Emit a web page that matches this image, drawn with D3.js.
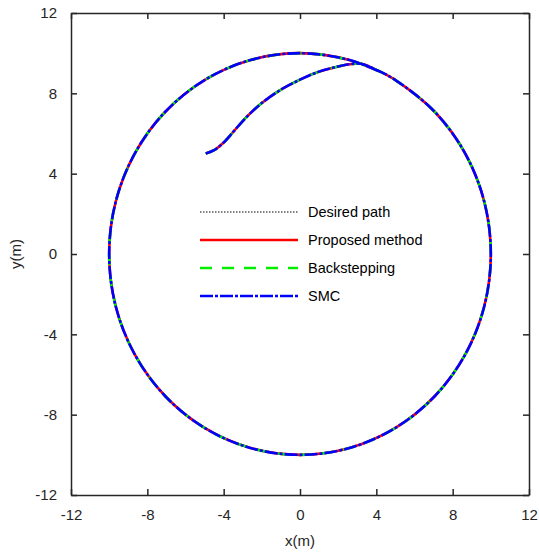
<!DOCTYPE html>
<html>
<head>
<meta charset="utf-8">
<script src="https://cdn.jsdelivr.net/npm/d3@7"></script>
<style>
  body { margin: 0; background: #fff; }
  svg { font-family: Arial, "Liberation Sans", sans-serif; }
</style>
</head>
<body>
<svg id="chart"></svg>
<script>
const desiredX = [10, 9.66, 8.66, 7.07, 5, 2.59, 0, -2.59, -5, -7.07, -8.66, -9.66, -10, -9.66, -8.66, -7.07, -5, -2.59, 0, 2.59, 5, 7.07, 8.66, 9.66];
const desiredY = [0, 2.59, 5, 7.07, 8.66, 9.66, 10, 9.66, 8.66, 7.07, 5, 2.59, 0, -2.59, -5, -7.07, -8.66, -9.66, -10, -9.66, -8.66, -7.07, -5, -2.59];

// Tracked trajectory: approach from (-5,5), then clockwise around the circle
const trackX = [-4.94, -4.5, -4.0, -3.5, -3.0, -2.5, -2.0, -1.0, 0, 1.0, 2.0, 2.6, 3.2, 4.0,
                5, 7.07, 8.66, 9.66, 10, 9.66, 8.66, 7.07, 5, 2.59, 0, -2.59, -5, -7.07, -8.66, -9.66, -10,
                -9.66, -8.66, -7.07, -5, -2.59, 0, 2.59, 4.2];
const trackY = [5.01, 5.17, 5.55, 6.08, 6.62, 7.1, 7.52, 8.18, 8.68, 9.08, 9.34, 9.45, 9.47, 9.17,
                8.66, 7.07, 5, 2.59, 0, -2.59, -5, -7.07, -8.66, -9.66, -10, -9.66, -8.66, -7.07, -5, -2.59, 0,
                2.59, 5, 7.07, 8.66, 9.66, 10, 9.66, 9.07];

const ticks = [-12, -8, -4, 0, 4, 8, 12];

const series = [
  {name: "Desired path",    color: "#000000", width: 1,   dash: "1.5,1.5", closed: true},
  {name: "Proposed method", color: "#ff0000", width: 2.6, dash: null,      closed: false},
  {name: "Backstepping",    color: "#00ee00", width: 2.6, dash: "12,10",   closed: false},
  {name: "SMC",             color: "#0000ff", width: 2.6, dash: "13,2,3,2", closed: false}
];

const W = 539, H = 553;
const margin = {top: 13, right: 10, bottom: 58, left: 71};
const width = W - margin.left - margin.right;
const height = H - margin.top - margin.bottom;

const svg = d3.select("#chart").attr("width", W).attr("height", H);
const g = svg.append("g").attr("transform", `translate(${margin.left},${margin.top})`);

const x = d3.scaleLinear().domain([-12, 12]).range([0, width]);
const y = d3.scaleLinear().domain([-12, 12]).range([height, 0]);

const desiredPts = desiredX.map((v, i) => [v, desiredY[i]]);
const trackPts = trackX.map((v, i) => [v, trackY[i]]);

const lineOpen = d3.line().x(d => x(d[0])).y(d => y(d[1])).curve(d3.curveCatmullRom.alpha(0.5));
const lineClosed = d3.line().x(d => x(d[0])).y(d => y(d[1])).curve(d3.curveCatmullRomClosed.alpha(0.5));

series.forEach(s => {
  g.append("path")
    .attr("d", s.closed ? lineClosed(desiredPts) : lineOpen(trackPts))
    .attr("fill", "none")
    .attr("stroke", s.color)
    .attr("stroke-width", s.width)
    .attr("stroke-dasharray", s.dash);
});

// Axes: box with inward ticks on all sides
const axisColor = "#262626";
const tickLen = 6;
const axes = [
  {axis: d3.axisBottom(x), t: `translate(0,${height})`, labels: true},
  {axis: d3.axisTop(x), t: `translate(0,0)`, labels: false},
  {axis: d3.axisLeft(y), t: `translate(0,0)`, labels: true},
  {axis: d3.axisRight(y), t: `translate(${width},0)`, labels: false}
];
axes.forEach(a => {
  const ax = g.append("g")
    .attr("transform", a.t)
    .call(a.axis.tickValues(ticks)
      .tickFormat(d => a.labels ? String(d) : "")
      .tickSizeInner(-tickLen).tickSizeOuter(0).tickPadding(14));
  ax.select(".domain").attr("stroke", axisColor).attr("stroke-width", 1.5);
  ax.selectAll(".tick line").attr("stroke", axisColor).attr("stroke-width", 1.5);
  ax.selectAll(".tick text")
    .attr("fill", axisColor)
    .style("font-size", "15px")
    .style("font-family", "Arial, 'Liberation Sans', sans-serif");
  if (!a.labels) ax.selectAll(".tick text").remove();
});

// Axis titles
svg.append("text")
  .attr("x", margin.left + x(0))
  .attr("y", 546)
  .attr("text-anchor", "middle")
  .attr("fill", axisColor)
  .style("font-size", "15px")
  .text("x(m)");

svg.append("text")
  .attr("transform", `translate(21,${margin.top + y(0)}) rotate(-90)`)
  .attr("text-anchor", "middle")
  .attr("fill", axisColor)
  .style("font-size", "15px")
  .text("y(m)");

// Legend
const legendY = [212, 240, 268, 296];
const legend = svg.append("g");
series.forEach((s, i) => {
  legend.append("line")
    .attr("x1", 200).attr("x2", 298)
    .attr("y1", legendY[i]).attr("y2", legendY[i])
    .attr("stroke", s.color)
    .attr("stroke-width", s.width)
    .attr("stroke-dasharray", s.dash);
  legend.append("text")
    .attr("x", 308)
    .attr("y", legendY[i] + 5)
    .attr("fill", "#000")
    .style("font-size", "14.5px")
    .text(s.name);
});
</script>
</body>
</html>
